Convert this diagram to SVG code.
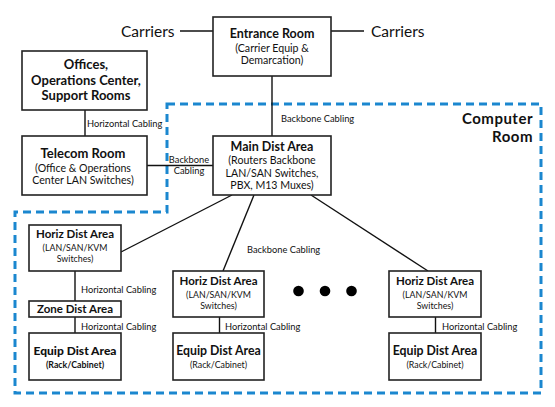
<svg xmlns="http://www.w3.org/2000/svg" width="555" height="407" viewBox="0 0 555 407">
<style>
.box{fill:#fff;stroke:#222;stroke-width:1.6}
.ln{stroke:#111;stroke-width:1.4;fill:none}
text{font-family:Lato,"Open Sans",sans-serif;fill:#111}
.t{font-size:12.5px;font-weight:bold;text-anchor:middle}
.s{font-size:10.6px;text-anchor:middle}
.ht{font-size:11.5px;font-weight:bold;text-anchor:middle}
.hs{font-size:8.8px;text-anchor:middle}
.lb{font-size:9.3px}
.car{font-size:15.5px}
.cr{font-size:15px;font-weight:bold;text-anchor:end;letter-spacing:0.5px}
</style>
<rect width="555" height="407" fill="#fff"/>
<path d="M167,104 H541 V393 H15 V212 H167 Z" fill="none" stroke="#1b87cf" stroke-width="3" stroke-dasharray="8,5"/>
<g id="connectors">
<line class="ln" x1="180" y1="31" x2="213" y2="31"/>
<line class="ln" x1="331" y1="31" x2="364" y2="31"/>
<line class="ln" x1="272" y1="76" x2="272" y2="136"/>
<line class="ln" x1="85" y1="110" x2="85" y2="136"/>
<line class="ln" x1="147" y1="165.5" x2="213" y2="165.5"/>
<line class="ln" x1="232" y1="195" x2="121" y2="252"/>
<line class="ln" x1="254" y1="195" x2="223" y2="271"/>
<line class="ln" x1="311" y1="195" x2="428" y2="271"/>
<line class="ln" x1="75" y1="271" x2="75" y2="301"/>
<line class="ln" x1="75" y1="317" x2="75" y2="333"/>
<line class="ln" x1="219.5" y1="317" x2="219.5" y2="333"/>
<line class="ln" x1="435.5" y1="317" x2="435.5" y2="333"/>
<text class="lb" x="87" y="127">Horizontal Cabling</text>
<text class="lb" x="189" y="163" text-anchor="middle">Backbone</text>
<text class="lb" x="189" y="174" text-anchor="middle">Cabling</text>
<text class="lb" x="281" y="122">Backbone Cabling</text>
<text class="lb" x="247" y="253">Backbone Cabling</text>
<text class="lb" x="81" y="293">Horizontal Cabling</text>
<text class="lb" x="81" y="329.5">Horizontal Cabling</text>
<text class="lb" x="225" y="329.5">Horizontal Cabling</text>
<text class="lb" x="442" y="329.5">Horizontal Cabling</text>
</g>
<g id="carriers-left"><text class="car" x="121" y="37">Carriers</text></g>
<g id="carriers-right"><text class="car" x="371" y="37">Carriers</text></g>
<g id="entrance">
<rect class="box" x="213" y="17" width="118" height="59"/>
<text class="t" x="272" y="38">Entrance Room</text>
<text class="s" x="272" y="52">(Carrier Equip &amp;</text>
<text class="s" x="272" y="64">Demarcation)</text>
</g>
<g id="offices">
<rect class="box" x="22" y="51" width="125" height="59"/>
<text class="t" x="86" y="69" style="font-size:13px">Offices,</text>
<text class="t" x="86" y="84.5" style="font-size:13px">Operations Center,</text>
<text class="t" x="86" y="100" style="font-size:13px">Support Rooms</text>
</g>
<g id="telecom">
<rect class="box" x="22" y="136" width="125" height="59"/>
<text class="t" x="83" y="158" style="font-size:13px">Telecom Room</text>
<text class="s" x="83" y="172">(Office &amp; Operations</text>
<text class="s" x="83" y="184">Center LAN Switches)</text>
</g>
<g id="main">
<rect class="box" x="213" y="136" width="118" height="59"/>
<text class="t" x="272" y="150.5">Main Dist Area</text>
<text class="s" x="272" y="164">(Routers Backbone</text>
<text class="s" x="272" y="176.5">LAN/SAN Switches,</text>
<text class="s" x="272" y="188.5">PBX, M13 Muxes)</text>
</g>
<g id="computer-room-label">
<text class="cr" x="533" y="123.5">Computer</text>
<text class="cr" x="533" y="141.5">Room</text>
</g>
<g id="hda1">
<rect class="box" x="29" y="225" width="92" height="46"/>
<text class="ht" x="75" y="238">Horiz Dist Area</text>
<text class="hs" x="75" y="251">(LAN/SAN/KVM</text>
<text class="hs" x="75" y="262">Switches)</text>
</g>
<g id="hda2">
<rect class="box" x="173" y="271" width="91" height="46"/>
<text class="ht" x="218.5" y="284.5">Horiz Dist Area</text>
<text class="hs" x="218.5" y="298">(LAN/SAN/KVM</text>
<text class="hs" x="218.5" y="308.5">Switches)</text>
</g>
<g id="hda3">
<rect class="box" x="389" y="271" width="92" height="46"/>
<text class="ht" x="435" y="284.5">Horiz Dist Area</text>
<text class="hs" x="435" y="298">(LAN/SAN/KVM</text>
<text class="hs" x="435" y="308.5">Switches)</text>
</g>
<g id="dots">
<circle cx="298.5" cy="291" r="5.3" fill="#000"/>
<circle cx="325" cy="291" r="5.3" fill="#000"/>
<circle cx="351.5" cy="291" r="5.3" fill="#000"/>
</g>
<g id="zone">
<rect class="box" x="29" y="301" width="92" height="16"/>
<text class="ht" x="75" y="313">Zone Dist Area</text>
</g>
<g id="eda1">
<rect class="box" x="29" y="333" width="92" height="47"/>
<text class="t" x="75" y="355" style="font-size:12px;font-weight:900">Equip Dist Area</text>
<text class="hs" x="75" y="368" style="font-weight:bold">(Rack/Cabinet)</text>
</g>
<g id="eda2">
<rect class="box" x="173" y="333" width="91" height="47"/>
<text class="t" x="218.5" y="355" style="font-size:12.3px">Equip Dist Area</text>
<text class="hs" x="218.5" y="368">(Rack/Cabinet)</text>
</g>
<g id="eda3">
<rect class="box" x="389" y="333" width="92" height="47"/>
<text class="t" x="435" y="355" style="font-size:12.3px">Equip Dist Area</text>
<text class="hs" x="435" y="368">(Rack/Cabinet)</text>
</g>
</svg>
